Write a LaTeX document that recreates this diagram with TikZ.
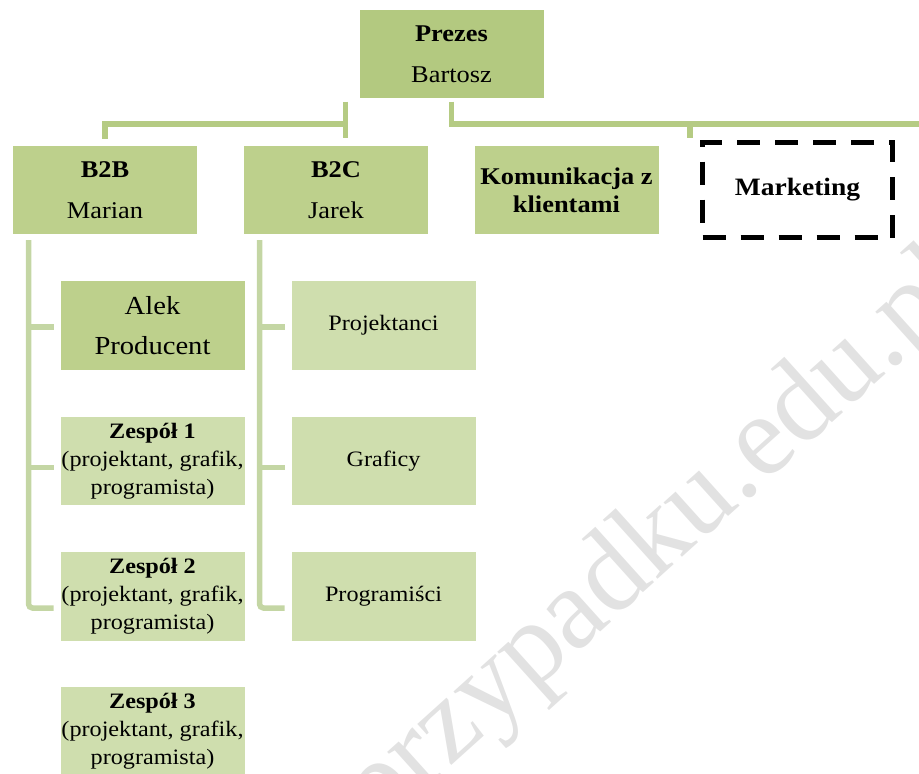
\documentclass[tikz,border=0pt]{standalone}
\usepackage{fontspec}
\setmainfont{Liberation Serif}[FakeStretch=1.1]
\newfontfamily\wmfont{Liberation Serif}
\definecolor{cTop}{HTML}{B3C980}
\definecolor{cMid}{HTML}{BDD08C}
\definecolor{cLow}{HTML}{CFDEAE}
\definecolor{cBar}{HTML}{C4D6A4}
\definecolor{cLine}{HTML}{B5CB83}
\definecolor{cWm}{HTML}{E2E2E2}
\begin{document}
\begin{tikzpicture}[x=1pt,y=-1pt,
  box/.style={draw=white, line width=0.8pt, minimum width=185pt, minimum height=89.5pt, inner sep=0pt, align=center, text=black},
  topbox/.style={box, fill=cTop, font=\fontsize{24}{41}\selectfont},
  midbox/.style={box, fill=cMid, font=\fontsize{24}{41}\selectfont},
  kombox/.style={box, fill=cMid, font=\fontsize{24}{28}\selectfont\bfseries},
  alekbox/.style={box, fill=cMid, font=\fontsize{26}{40}\selectfont},
  lowbox/.style={box, fill=cLow, font=\fontsize{22}{28}\selectfont},
  mktbox/.style={draw=black, line width=5pt, dash pattern=on 23pt off 15pt, minimum width=190pt, minimum height=95pt, inner sep=0pt, font=\fontsize{25}{30}\selectfont\bfseries},
  topline/.style={draw=cLine, line width=5.5pt},
  barline/.style={draw=cBar, line width=5.5pt}
]
\useasboundingbox (0,0) rectangle (919,774);

% watermark
\begin{scope}
\clip (0,0) rectangle (919,774);
\node[rotate=42, anchor=base west, inner sep=0pt, text=cWm, font=\wmfont\fontsize{116}{116}\selectfont] (wm) at (378,832) {przypadku.edu.pl};
\end{scope}

% nodes
\node[topbox] (prezes) at (451.5,54) {\textbf{Prezes}\\Bartosz};
\node[midbox] (b2b) at (105,190) {\textbf{B2B}\\Marian};
\node[midbox] (b2c) at (336,190) {\textbf{B2C}\\Jarek};
\node[kombox] (kom) at (566.5,190) {Komunikacja z\\klientami};
\node[mktbox] (mkt) at (797.5,190) {Marketing};

\node[alekbox] (alek) at (152.5,325.3) {Alek\\Producent};
\node[lowbox] (z1) at (152.5,461) {\textbf{Zespół 1}\\(projektant, grafik,\\programista)};
\node[lowbox] (z2) at (152.5,596.2) {\textbf{Zespół 2}\\(projektant, grafik,\\programista)};
\node[lowbox] (z3) at (152.5,731.5) {\textbf{Zespół 3}\\(projektant, grafik,\\programista)};

\node[lowbox] (proj) at (383.5,325.3) {Projektanci};
\node[lowbox] (graf) at (383.5,461) {Graficy};
\node[lowbox] (prog) at (383.5,596.2) {Programiści};

% top connectors
\coordinate (jL) at (345.5,124);
\coordinate (jM) at (690,124);
\coordinate (eR) at (925,124);
\draw[topline] ([yshift=-2.5pt]prezes.south -| jL) -- ([yshift=7pt]b2c.north -| jL);
\draw[topline] (jL) -| ([yshift=6pt]b2b.north);
\draw[topline] ([yshift=-2.5pt]prezes.south) |- (eR);
\draw[topline] (jM) -- ([yshift=2pt]mkt.north -| jM);

% B2B children
\coordinate (bL) at (28.5,240);
\draw[barline, rounded corners=4pt] (bL) |- ([xshift=-6pt,yshift=-11.8pt]z2.west);
\draw[barline] ([yshift=-1.7pt]alek.west -| bL) -- ([xshift=-6pt,yshift=-1.7pt]alek.west);
\draw[barline] ([yshift=-6.5pt]z1.west -| bL) -- ([xshift=-6pt,yshift=-6.5pt]z1.west);

% B2C children
\coordinate (bR) at (259.5,240);
\draw[barline, rounded corners=4pt] (bR) |- ([xshift=-6pt,yshift=-11.8pt]prog.west);
\draw[barline] ([yshift=-1.7pt]proj.west -| bR) -- ([xshift=-6pt,yshift=-1.7pt]proj.west);
\draw[barline] ([yshift=-6.5pt]graf.west -| bR) -- ([xshift=-6pt,yshift=-6.5pt]graf.west);
\end{tikzpicture}
\end{document}
